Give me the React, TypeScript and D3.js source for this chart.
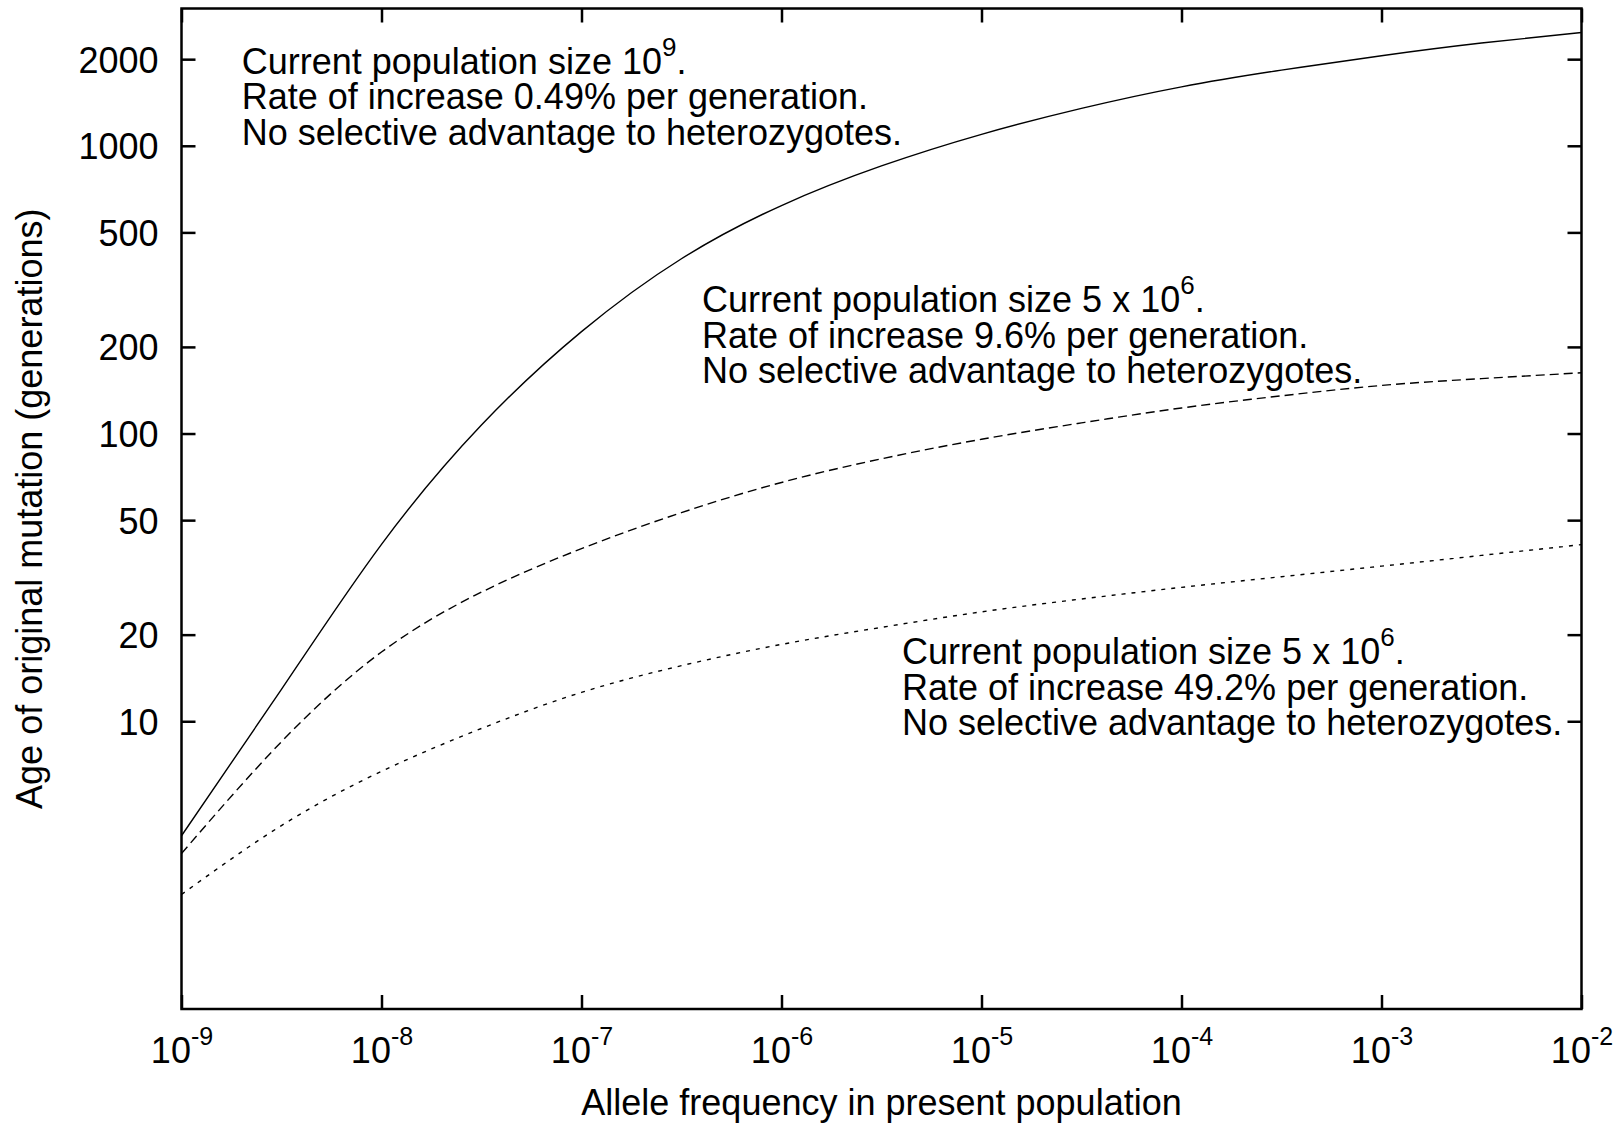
import React, { useEffect, useRef } from "react";
import * as d3 from "d3";

// allele frequency sample points (half-decade steps)
const frequencies = [
  1e-9, 3.16e-9, 1e-8, 3.16e-8, 1e-7, 3.16e-7, 1e-6, 3.16e-6,
  1e-5, 3.16e-5, 1e-4, 3.16e-4, 1e-3, 3.16e-3, 1e-2,
];

// age of original mutation (generations)
const ageSlowGrowth = [4.0, 12.9, 41.2, 107, 226, 405, 620, 851, 1096, 1349, 1603, 1832, 2056, 2275, 2477];
const ageMediumGrowth = [3.47, 8.49, 17.4, 28.1, 39.8, 53.1, 67.6, 81.7, 95.5, 108.9, 122.7, 135.2, 146.9, 155.2, 162.6];
const ageFastGrowth = [2.5, 4.34, 6.7, 9.44, 12.6, 15.6, 18.5, 21.2, 24.0, 26.6, 29.2, 31.8, 34.6, 37.7, 41.1];

const seriesAges = [ageSlowGrowth, ageMediumGrowth, ageFastGrowth];
const seriesDash = [null, "9,5", "4,6"];

const xTicks = [1e-9, 1e-8, 1e-7, 1e-6, 1e-5, 1e-4, 1e-3, 1e-2];
const xTickExponents = ["-9", "-8", "-7", "-6", "-5", "-4", "-3", "-2"];
const yTicks = [10, 20, 50, 100, 200, 500, 1000, 2000];

// annotation anchors (data coords of first line baseline) and texts
const labelFreqs = [2e-9, 4e-7, 4e-6];
const labelAges = [1780, 264, 15.8];
const sizeBases = ["10", "5 x 10", "5 x 10"];
const sizeExponents = ["9", "6", "6"];
const growthRates = ["0.49%", "9.6%", "49.2%"];

const FONT = "'Liberation Sans', Arial, Helvetica, sans-serif";

const AgeChart = () => {
  const ref = useRef<SVGSVGElement>(null);

  useEffect(() => {
    document.body.style.margin = "0";
    const svg = d3.select(ref.current);
    svg.selectAll("*").remove();

    const left = 181.5, right = 1581.5, top = 8.5, bottom = 1009;

    const x = d3.scaleLog().domain([1e-9, 1e-2]).range([left, right]);
    const y = d3.scaleLog().domain([1, 3000]).range([bottom, top]);

    const g = svg.append("g").attr("font-family", FONT).attr("fill", "#000");

    // curves
    const line = d3.line<number>()
      .x((_, i) => x(frequencies[i]))
      .y(d => y(d))
      .curve(d3.curveNatural);

    seriesAges.forEach((ages, k) => {
      g.append("path")
        .datum(ages)
        .attr("d", line)
        .attr("fill", "none")
        .attr("stroke", "#000")
        .attr("stroke-width", 1.4)
        .attr("stroke-dasharray", seriesDash[k]);
    });

    // axes (inward ticks on all four sides)
    const styleAxis = (sel: any) => {
      sel.select(".domain").remove();
      sel.selectAll(".tick line").attr("stroke", "#000").attr("stroke-width", 2.5);
    };

    g.append("g")
      .attr("transform", `translate(${left},0)`)
      .call(d3.axisLeft(y).tickValues(yTicks).tickFormat(d3.format("d")).tickSizeInner(-14).tickSizeOuter(0).tickPadding(23))
      .call(styleAxis)
      .call(a => a.selectAll("text")
        .attr("font-size", 36).attr("font-family", FONT).attr("fill", "#000").attr("dy", "0.36em"));

    g.append("g")
      .attr("transform", `translate(${right},0)`)
      .call(d3.axisRight(y).tickValues(yTicks).tickFormat(() => "").tickSizeInner(-14).tickSizeOuter(0))
      .call(styleAxis);

    const bottomAxis = g.append("g")
      .attr("transform", `translate(0,${bottom})`)
      .call(d3.axisBottom(x).tickValues(xTicks).tickFormat(() => "").tickSizeInner(-14).tickSizeOuter(0))
      .call(styleAxis);

    bottomAxis.selectAll(".tick text").each(function (_, i) {
      const t = d3.select(this as SVGTextElement)
        .attr("y", 54).attr("dy", null)
        .attr("font-size", 36).attr("font-family", FONT).attr("fill", "#000")
        .attr("text-anchor", "middle");
      t.append("tspan").text("10");
      t.append("tspan").attr("font-size", 25).attr("dy", -18).text(xTickExponents[i]);
    });

    g.append("g")
      .attr("transform", `translate(0,${top})`)
      .call(d3.axisTop(x).tickValues(xTicks).tickFormat(() => "").tickSizeInner(-14).tickSizeOuter(0))
      .call(styleAxis);

    // frame
    g.append("rect")
      .attr("x", left).attr("y", top)
      .attr("width", right - left).attr("height", bottom - top)
      .attr("fill", "none").attr("stroke", "#000").attr("stroke-width", 2.5);

    // axis titles
    g.append("text")
      .attr("x", (left + right) / 2).attr("y", 1115)
      .attr("text-anchor", "middle").attr("font-size", 36)
      .text("Allele frequency in present population");

    g.append("text")
      .attr("transform", `translate(42,${(top + bottom) / 2}) rotate(-90)`)
      .attr("text-anchor", "middle").attr("font-size", 36)
      .text("Age of original mutation (generations)");

    // annotations
    labelFreqs.forEach((f, k) => {
      const lx = x(f), ly = y(labelAges[k]);
      const t = g.append("text").attr("font-size", 36);
      const l1 = t.append("tspan").attr("x", lx).attr("y", ly);
      l1.append("tspan").text(`Current population size ${sizeBases[k]}`);
      l1.append("tspan").attr("font-size", 26).attr("dy", -18).text(sizeExponents[k]);
      l1.append("tspan").attr("dy", 18).text(".");
      t.append("tspan").attr("x", lx).attr("y", ly + 35.5)
        .text(`Rate of increase ${growthRates[k]} per generation.`);
      t.append("tspan").attr("x", lx).attr("y", ly + 71)
        .text("No selective advantage to heterozygotes.");
    });
  }, []);

  return <svg ref={ref} width={1624} height={1125} style={{ display: "block", background: "#fff" }} />;
};

export default function App() {
  return <AgeChart />;
}
